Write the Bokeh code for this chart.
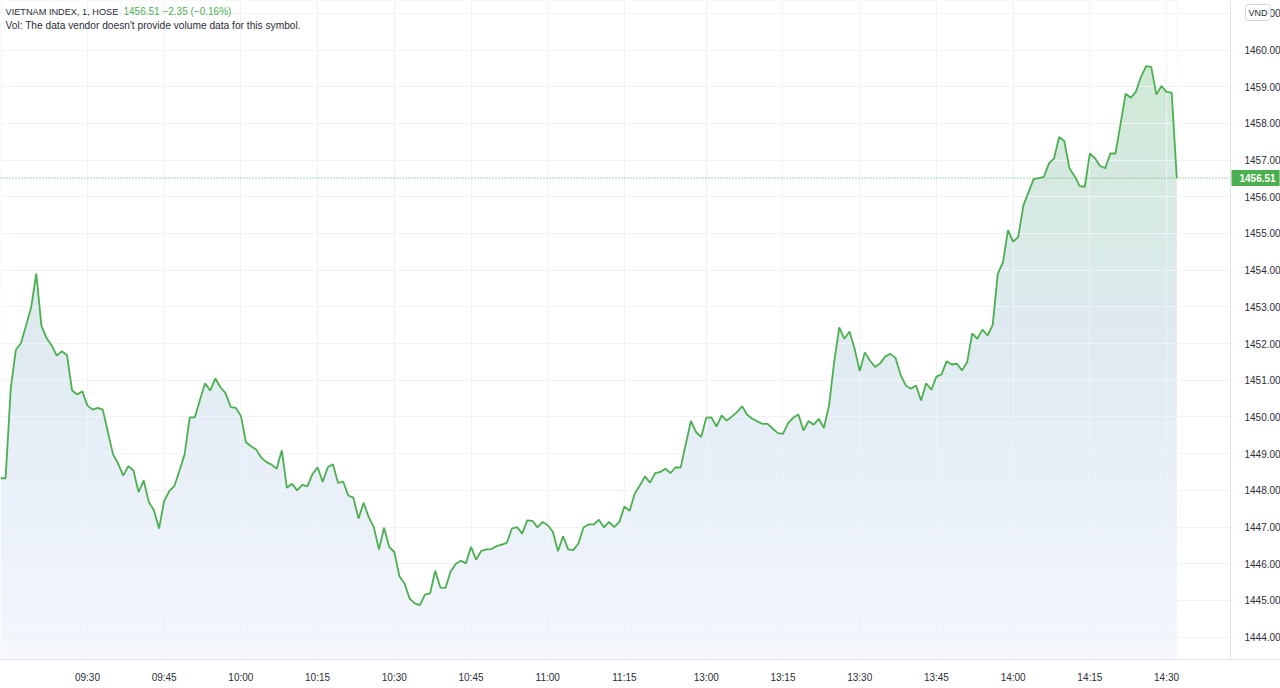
import numpy as np
from bokeh.plotting import figure
from bokeh.models import Range1d, FixedTicker, NumeralTickFormatter, Label, Span
from bokeh.embed import file_html
from bokeh.resources import INLINE

# ---------------- data ----------------
symbol_title = "VIETNAM INDEX, 1, HOSE"
last_price = 1456.51
price_text = "1456.51"
change_text = "\u22122.35 (\u22120.16%)"
volume_note = "Vol: The data vendor doesn't provide volume data for this symbol."
currency = "VND"

# one value per 1-minute bar (bar index 0 .. N-1)
values = [
    1448.33, 1448.33, 1450.77, 1451.83, 1452.01, 1452.49, 1452.99, 1453.91, 1452.49, 1452.15,
    1451.95, 1451.67, 1451.79, 1451.69, 1450.72, 1450.61, 1450.70, 1450.31, 1450.20, 1450.25,
    1450.20, 1449.59, 1448.98, 1448.73, 1448.40, 1448.66, 1448.54, 1447.95, 1448.27, 1447.68,
    1447.46, 1446.96, 1447.71, 1447.98, 1448.12, 1448.54, 1448.98, 1449.99, 1449.99, 1450.47,
    1450.92, 1450.72, 1451.05, 1450.81, 1450.65, 1450.27, 1450.25, 1450.03,
    1449.31, 1449.20, 1449.11, 1448.89, 1448.77, 1448.70, 1448.59, 1449.09, 1448.07, 1448.18,
    1448.00, 1448.15, 1448.11, 1448.44, 1448.63, 1448.23, 1448.63, 1448.71, 1448.20, 1448.24,
    1447.86, 1447.80, 1447.23, 1447.66, 1447.27, 1446.99, 1446.39, 1446.98, 1446.46, 1446.32,
    1445.66, 1445.46, 1445.05, 1444.92, 1444.87, 1445.16, 1445.19, 1445.81, 1445.35, 1445.34,
    1445.78, 1445.99, 1446.08, 1446.01, 1446.46, 1446.11, 1446.35, 1446.39, 1446.40, 1446.48,
    1446.52, 1446.57, 1446.96, 1447.00, 1446.82, 1447.18, 1447.17, 1446.99, 1447.14,
    1447.05, 1446.87, 1446.34, 1446.75, 1446.39, 1446.37, 1446.55, 1446.99, 1447.07, 1447.07,
    1447.20, 1446.99, 1447.14, 1447.00, 1447.14, 1447.56, 1447.44, 1447.91, 1448.13, 1448.38,
    1448.21, 1448.47, 1448.50, 1448.59, 1448.47, 1448.63, 1448.62, 1449.27, 1449.89, 1449.59,
    1449.45, 1449.98, 1449.99, 1449.74, 1450.04, 1449.90, 1450.01, 1450.13, 1450.29, 1450.06,
    1449.95, 1449.88, 1449.81, 1449.81, 1449.68, 1449.56, 1449.54, 1449.83, 1449.98, 1450.07,
    1449.63, 1449.89, 1449.79, 1449.95, 1449.70, 1450.31,
    1451.49, 1452.44, 1452.13, 1452.33, 1451.86, 1451.25, 1451.76, 1451.54, 1451.36, 1451.46,
    1451.65, 1451.72, 1451.61, 1451.15, 1450.86, 1450.77, 1450.86, 1450.45, 1450.92, 1450.74,
    1451.10, 1451.16, 1451.52, 1451.43, 1451.45, 1451.27, 1451.49, 1452.28, 1452.13, 1452.38,
    1452.22, 1452.51,
    1453.90, 1454.21, 1455.09, 1454.78, 1454.91, 1455.76, 1456.12, 1456.48, 1456.51, 1456.54,
    1456.91, 1457.05, 1457.63, 1457.52, 1456.78, 1456.57, 1456.30, 1456.27, 1457.18, 1457.05,
    1456.84, 1456.78, 1457.18, 1457.18, 1457.98, 1458.81, 1458.70, 1458.86, 1459.27, 1459.56,
    1459.54, 1458.79, 1459.02, 1458.86, 1458.84, 1456.51,
]

tick_labels = ["09:30", "09:45", "10:00", "10:15", "10:30", "10:45", "11:00", "11:15",
               "13:00", "13:15", "13:30", "13:45", "14:00", "14:15", "14:30"]
tick_bars = [17, 32, 47, 62, 77, 92, 107, 122, 138, 153, 168, 183, 198, 213, 228]
price_ticks = list(range(1444, 1462))

# ---------------- styling ----------------
FW, FH = 1280, 659          # frame covers full width (price scale drawn inside)
SCALE_PX = 1230             # x pixel of the price-scale separator
X0, XS = 0.0, 240.5         # bar index at left edge and at the separator
PPB = SCALE_PX / (XS - X0)  # pixels per bar
X1 = XS + (FW - SCALE_PX) / PPB
Y0, Y1 = 1443.39, 1461.35
GREEN = "#4caf50"
TXT = "#2a2e39"
FONT = "Liberation Sans"

bars = np.arange(len(values))

p = figure(frame_width=FW, frame_height=FH,
           x_range=Range1d(X0, X1), y_range=Range1d(Y0, Y1),
           y_axis_location="right", output_backend="svg", toolbar_location=None,
           min_border_left=0, min_border_top=0, min_border_right=0, min_border_bottom=29,
           background_fill_color="white", border_fill_color="white",
           outline_line_color=None)

# gradient fill under the line: vertical gradient image, masked above the line
stops_px = [0, 60, 180, 330, 450, 560, 659]
stops_rgb = np.array([[204, 232, 210], [207, 233, 213], [214, 234, 226], [223, 235, 240],
                      [231, 239, 248], [238, 243, 251], [246, 248, 253]], dtype=float)
rows = np.arange(FH)  # row 0 = bottom
ypix = FH - 1 - rows
cols = [np.interp(ypix, stops_px, stops_rgb[:, k]) for k in range(3)]
img = np.zeros((FH, 2), dtype=np.uint32)
view = img.view(dtype=np.uint8).reshape((FH, 2, 4))
for k in range(3):
    view[:, :, k] = cols[k][:, None].astype(np.uint8)
view[:, :, 3] = 255
p.image_rgba(image=[img], x=0, y=Y0, dw=float(bars[-1]), dh=Y1 - Y0, level="image")
p.varea(x=bars, y1=values, y2=[Y1] * len(values), fill_color="white", level="image")

p.add_layout(Span(location=last_price, dimension="width", line_color=GREEN,
                  line_dash="1 2", line_width=1, level="underlay"))

# white price-scale area (covers grid lines / dotted line to the right of separator)
p.quad(left=[XS], right=[X1], bottom=[Y0], top=[Y1], fill_color="white", line_color=None)

p.line(bars, values, line_color=GREEN, line_width=1.8)

# axes
p.yaxis.fixed_location = XS
p.yaxis.ticker = FixedTicker(ticks=price_ticks)
p.yaxis.formatter = NumeralTickFormatter(format="0.00")
p.xaxis.ticker = FixedTicker(ticks=tick_bars)
p.xaxis.major_label_overrides = {b: l for b, l in zip(tick_bars, tick_labels)}
for ax in (p.xaxis, p.yaxis):
    ax.axis_line_color = "#e0e3eb"
    ax.major_tick_line_color = None
    ax.minor_tick_line_color = None
    ax.major_label_text_font_size = "10px"
    ax.major_label_text_color = TXT
    ax.major_label_text_font = FONT
p.yaxis.major_label_standoff = 8
p.xaxis.major_label_standoff = 6

p.xgrid.grid_line_color = "#f0f3fa"
p.ygrid.grid_line_color = "#f0f3fa"

# header texts
p.add_layout(Label(x=5, y=FH - 11, x_units="screen", y_units="screen", text=symbol_title,
                   text_font=FONT, text_font_size="9.2px", text_color=TXT,
                   text_baseline="middle"))
p.add_layout(Label(x=123, y=FH - 11, x_units="screen", y_units="screen",
                   text=price_text + "  " + change_text,
                   text_font=FONT, text_font_size="10px", text_color=GREEN,
                   text_baseline="middle"))
p.add_layout(Label(x=5, y=FH - 25, x_units="screen", y_units="screen", text=volume_note,
                   text_font=FONT, text_font_size="10.2px", text_color=TXT,
                   text_baseline="middle"))

# price marker on the scale
p.add_layout(Label(x=SCALE_PX + 1, y=last_price, x_units="screen", y_units="data",
                   text=price_text, text_font=FONT, text_font_size="10px",
                   text_font_style="bold", text_color="white", text_baseline="middle",
                   background_fill_color=GREEN, padding=[8, 4, 4, 4]))
# currency badge
p.add_layout(Label(x=SCALE_PX + 15, y=FH - 12, x_units="screen", y_units="screen",
                   text=currency, text_font=FONT, text_font_size="9px", text_color=TXT,
                   text_baseline="middle", background_fill_color="white",
                   border_line_color="#d1d4dc", border_radius=3, padding=3))

open("out.html", "w").write(file_html(p, INLINE))
